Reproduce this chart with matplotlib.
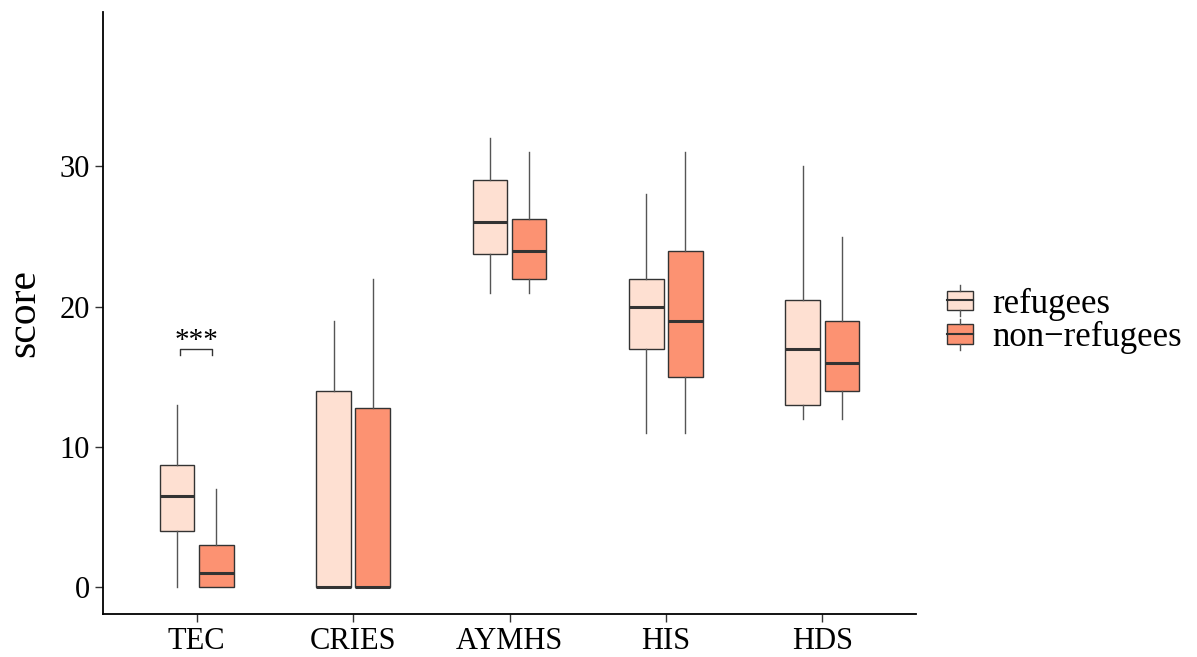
import matplotlib.pyplot as plt
from matplotlib.legend_handler import HandlerBase
from matplotlib.patches import Rectangle
from matplotlib.lines import Line2D

plt.rcParams['font.family'] = ['Liberation Serif', 'DejaVu Serif']

measures = ["TEC", "CRIES", "AYMHS", "HIS", "HDS"]
groups = ["refugees", "non\u2212refugees"]
colors = ["#FEE0D2", "#FC9272"]

# five-number summaries: (whislo, q1, med, q3, whishi)
refugees = [
    (0, 4.0, 6.5, 8.75, 13),
    (0, 0, 0, 14, 19),
    (21, 23.75, 26, 29, 32),
    (11, 17, 20, 22, 28),
    (12, 13, 17, 20.5, 30),
]
non_refugees = [
    (0, 0, 1, 3, 7),
    (0, 0, 0, 12.75, 22),
    (21, 22, 24, 26.25, 31),
    (11, 15, 19, 24, 31),
    (12, 14, 16, 19, 25),
]

# significance bracket on TEC
sig_y = 17.0
sig_label = "***"


def to_stats(rows):
    return [dict(whislo=r[0], q1=r[1], med=r[2], q3=r[3], whishi=r[4], fliers=[])
            for r in rows]


fig = plt.figure(figsize=(11.97, 6.57), dpi=100)
ax = fig.add_axes([103 / 1197, 43 / 657, 813 / 1197, 602 / 657])

offset = 0.125
width = 0.22
for k, (rows, col) in enumerate(zip([refugees, non_refugees], colors)):
    pos = [i + 1 + (k * 2 - 1) * offset for i in range(len(measures))]
    ax.bxp(to_stats(rows), positions=pos, widths=width, patch_artist=True,
           showcaps=False, showfliers=False,
           boxprops=dict(facecolor=col, edgecolor="#333333", linewidth=1.0),
           whiskerprops=dict(color="#555555", linewidth=1.0),
           medianprops=dict(color="#333333", linewidth=2.2),
           manage_ticks=False)

# bracket
x0, x1 = 1 - 0.105, 1 + 0.095
ax.plot([x0, x0, x1, x1], [sig_y - 0.45, sig_y, sig_y, sig_y - 0.45],
        color="#333333", linewidth=1.0)
ax.text((x0 + x1) / 2, sig_y - 0.35, sig_label, ha="center", va="bottom", fontsize=21)

ax.set_xlim(0.4, 5.6)
ax.set_ylim(-1.9, 41)
ax.set_xticks(range(1, len(measures) + 1))
ax.set_xticklabels(measures)
ax.set_yticks([0, 10, 20, 30])
ax.tick_params(labelsize=22, length=6, width=1.0, color="#333333")
ax.set_ylabel("score", fontsize=30, labelpad=12)
for side in ["top", "right"]:
    ax.spines[side].set_visible(False)
for side in ["left", "bottom"]:
    ax.spines[side].set_linewidth(1.3)


class BoxKey(HandlerBase):
    def create_artists(self, legend, orig_handle, xdescent, ydescent, width, height, fontsize, trans):
        fc = orig_handle.get_facecolor()
        bh = height
        y0 = -ydescent
        rect = Rectangle((-xdescent, y0), width, bh, facecolor=fc, edgecolor="#333333",
                         linewidth=1.0, transform=trans)
        mid = Line2D([-xdescent, -xdescent + width], [y0 + bh / 2] * 2,
                     color="#333333", linewidth=1.5, transform=trans)
        cx = -xdescent + width / 2
        top = Line2D([cx, cx], [y0 + bh, y0 + bh + height * 0.3], color="#555555",
                     linewidth=1.0, transform=trans)
        bot = Line2D([cx, cx], [y0, y0 - height * 0.3], color="#555555",
                     linewidth=1.0, transform=trans)
        return [rect, mid, top, bot]


handles = [Rectangle((0, 0), 1, 1, facecolor=c) for c in colors]
fig.legend(handles, groups, handler_map={Rectangle: BoxKey()}, loc="center left",
           bbox_to_anchor=(923 / 1197, 1 - 321 / 657), frameon=False, fontsize=25,
           handlelength=0.75, handleheight=0.48, handletextpad=0.55, labelspacing=0.02,
           borderpad=0.2)

fig.savefig("out.png", dpi=100)
